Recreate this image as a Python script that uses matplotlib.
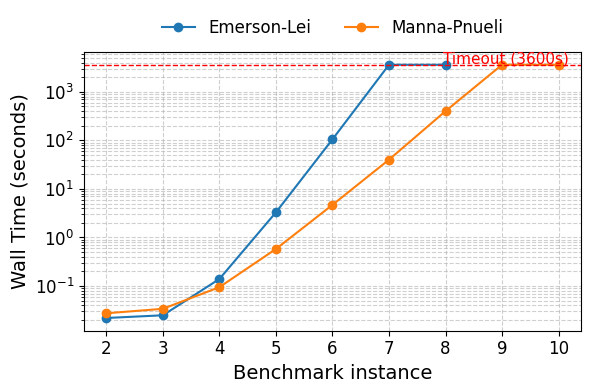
import numpy as np
import matplotlib
matplotlib.use("Agg")
import matplotlib.pyplot as plt

# benchmark instances
el_x = [2, 3, 4, 5, 6, 7, 8]
el_time = [0.022, 0.025, 0.14, 3.3, 105, 3600, 3600]

mp_x = [2, 3, 4, 5, 6, 7, 8, 9, 10]
mp_time = [0.0275, 0.034, 0.095, 0.58, 4.7, 40, 400, 3600, 3600]

TIMEOUT = 3600

fig, ax = plt.subplots(figsize=(5.9, 3.89), dpi=100)

ax.plot(el_x, el_time, "o-", color="tab:blue", lw=1.5, ms=6, label="Emerson-Lei")
ax.plot(mp_x, mp_time, "o-", color="tab:orange", lw=1.5, ms=6, label="Manna-Pnueli")
ax.axhline(TIMEOUT, color="red", ls="--", lw=1)
ax.text(7.95, TIMEOUT * 1.08, f"Timeout ({TIMEOUT}s)", color="red", fontsize=11)

ax.set_yscale("log")
ax.set_xticks(range(2, 11))
ax.set_xlabel("Benchmark instance", fontsize=14)
ax.set_ylabel("Wall Time (seconds)", fontsize=14)
ax.tick_params(labelsize=12)
ax.grid(True, which="both", ls="--", alpha=0.6)

ax.legend(loc="lower center", bbox_to_anchor=(0.5, 1.0), ncol=2, frameon=False, fontsize=12)
fig.subplots_adjust(left=0.142, right=0.985, top=0.866, bottom=0.15)
fig.savefig("out.png", dpi=100)
